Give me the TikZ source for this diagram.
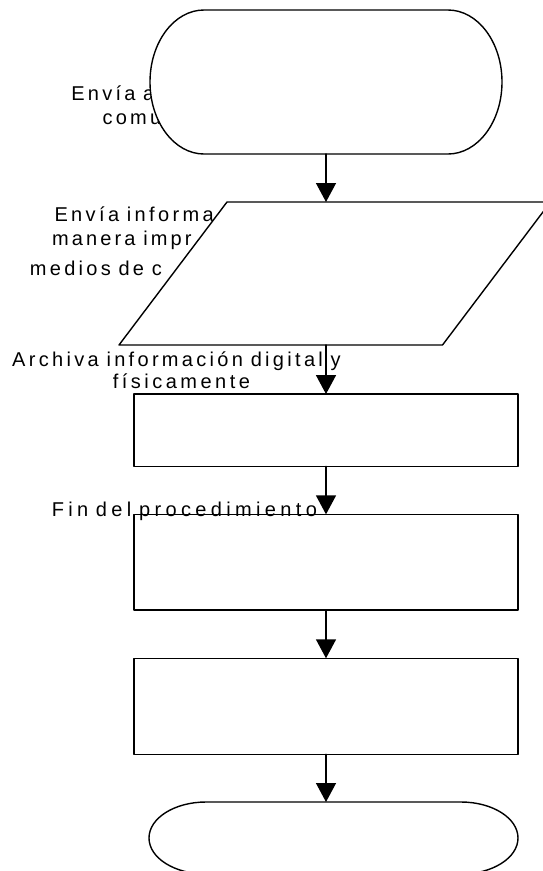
\documentclass[tikz,border=0pt]{standalone}
\usepackage{fontspec}
\newfontfamily\rotulo{Liberation Sans}
\newcommand\letrero[1]{\rotulo\addfontfeatures{LetterSpace=#1}\fontsize{20}{24}\selectfont}
\newcommand\hueco{\hspace{7.7pt}}
\usetikzlibrary{arrows.meta}
\begin{document}
\begin{tikzpicture}[x=1pt,y=-1pt,line join=round,line cap=round,>={Triangle[length=19pt,width=20pt]},line width=1.4pt,
		texto/.style={inner sep=0pt,anchor=base west,font={\letrero{#1}}},
		texto/.default=16.2,
		marco/.style={rectangle,inner sep=0pt,outer sep=0pt},
		caja/.style={marco,draw,fill=white,minimum width=384pt}]
			\clip (0,0) rectangle (543,871);
			\fill[white] (0,0) rectangle (543,871);
			\node[texto] (envia1) at (70.7,100) {Envía\hueco a};
			\node[texto] (envia2) at (101.9,124) {comu};
			\node[texto=16.9] (info1) at (53.8,221.7) {Envía\hueco informa};
			\node[texto=15.8] (info2) at (51.3,245) {manera\hueco impr};
			\node[texto=16.5] (info3) at (29.2,275) {medios\hueco de\hueco c};
			\node[texto=16.6] (arch1) at (11.5,366) {Archiva\hueco información\hueco digital\hueco y};
			\node[texto=17.4] (arch2) at (112.2,388) {físicamente};
			\node[marco,minimum width=352pt,minimum height=144pt] (inicio) at (326,82) {};
			\draw[fill=white] ([xshift=54pt]inicio.north west) -- ([xshift=-54pt]inicio.north east) arc[start angle=90,end angle=-90,x radius=54pt,y radius=72pt] -- ([xshift=54pt]inicio.south west) arc[start angle=270,end angle=90,x radius=54pt,y radius=72pt] -- cycle;
			\node[marco,minimum width=323.5pt,minimum height=143pt] (envio) at (334.75,273.5) {};
			\draw[fill=white] ([xshift=-54pt]envio.south west) -- ([xshift=54pt]envio.north west) -- ([xshift=54pt]envio.north east) -- ([xshift=-54pt]envio.south east) -- cycle;
			\node[caja,minimum height=72.3pt] (archivo) at (326,430.2) {};
			\node[caja,minimum height=95.7pt] (paso2) at (326,562.2) {};
			\node[caja,minimum height=96pt] (paso3) at (326,706.3) {};
			\node[texto=21.8] (fin) at (51.1,516.7) {Fin\hueco del\hueco procedimiento};
			\node[marco,minimum width=369pt,minimum height=72pt] (final) at (333.5,838) {};
			\draw[fill=white] ([xshift=57pt]final.north west) -- ([xshift=-57pt]final.north east) arc[start angle=90,end angle=-90,x radius=57pt,y radius=36pt] -- ([xshift=57pt]final.south west) arc[start angle=270,end angle=90,x radius=57pt,y radius=36pt] -- cycle;
			\draw[->] (inicio.south) -- (inicio.south |- envio.north);
			\draw[->] (archivo.north |- envio.south) -- (archivo.north);
			\draw[->] (archivo) -- (paso2);
			\draw[->] (paso2) -- (paso3);
			\draw[->] (paso3.south) -- (paso3.south |- final.north);
		\end{tikzpicture}
\end{document}
